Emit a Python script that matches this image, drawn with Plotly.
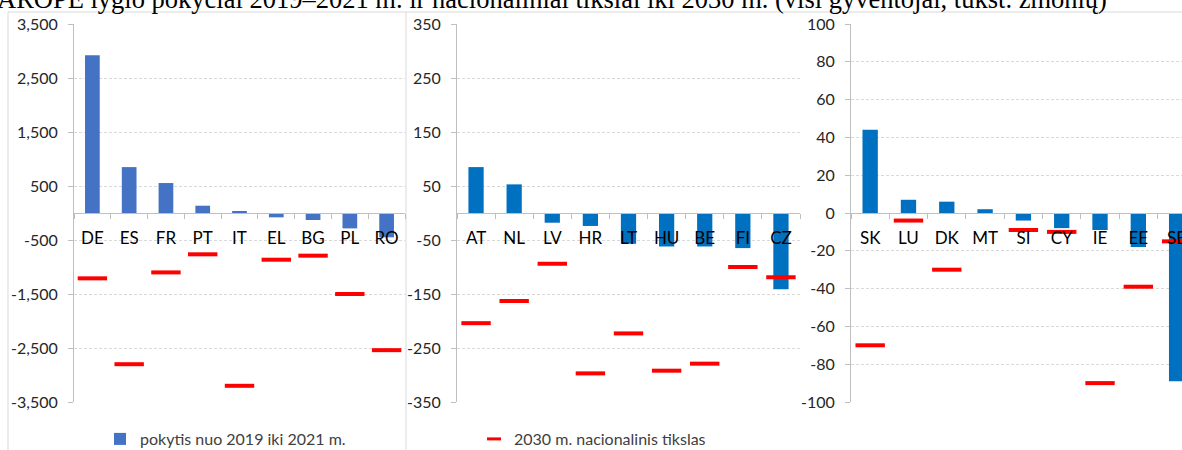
import plotly.graph_objects as go

# country groups and values (thousand people)
cats1 = ["DE", "ES", "FR", "PT", "IT", "EL", "BG", "PL", "RO"]
change1 = [2920, 850, 555, 135, 30, -80, -130, -285, -450]
target1 = [-1210, -2800, -1100, -765, -3200, -865, -790, -1500, -2540]

cats2 = ["AT", "NL", "LV", "HR", "LT", "HU", "BE", "FI", "CZ"]
change2 = [85, 53, -18, -24, -57, -62, -62, -65, -141]
target2 = [-204, -163, -94, -297, -223, -292, -279, -100, -119]

cats3 = ["SK", "LU", "DK", "MT", "SI", "CY", "IE", "EE", "SE"]
change3 = [44, 7, 6, 2, -4, -8, -9, -18, -89]
target3 = [-70, -4, -30, None, -9, -10, -90, -39, -15]

ticks1 = [3500, 2500, 1500, 500, -500, -1500, -2500, -3500]
ticks2 = [350, 250, 150, 50, -50, -150, -250, -350]
ticks3 = [100, 80, 60, 40, 20, 0, -20, -40, -60, -80, -100]

title = "AROPE lygio pokyčiai 2019–2021 m. ir nacionaliniai tikslai iki 2030 m. (visi gyventojai, tūkst. žmonių)"
bar_name = "pokytis nuo 2019 iki 2021 m."
target_name = "2030 m. nacionalinis tikslas"

W, H = 1182, 450
FONT = "Lato"
GRID = "#D9D9D9"
AXIS = "#BFBFBF"
RED = "#FF0000"


def px_x(p):
    return p / W


def px_y(p):
    return 1 - p / H


y_dom = [px_y(402), px_y(24)]
zero_pos = (y_dom[0] + y_dom[1]) / 2

panels = [
    (cats1, change1, target1, ticks1, "#4472C4", [px_x(74), px_x(405)], [-0.5, 8.5]),
    (cats2, change2, target2, ticks2, "#0070C0", [px_x(457), px_x(800)], [-0.5, 8.5]),
    (cats3, change3, target3, ticks3, "#0070C0", [px_x(851), 1.0], [-0.5, 8.14]),
]

fig = go.Figure()
layout = {}

for i, (cats, change, target, ticks, color, xdom, xrange_) in enumerate(panels):
    n = "" if i == 0 else str(i + 1)
    fig.add_trace(go.Bar(
        x=cats, y=change, width=0.4, marker_color=color, marker_line_width=0,
        xaxis="x" + n, yaxis="y" + n,
        name=bar_name, showlegend=(i == 0), legend="legend",
    ))
    fig.add_trace(go.Scatter(
        x=cats, y=target, mode="markers", xaxis="x" + n, yaxis="y" + n,
        marker=dict(symbol="line-ew", size=21, line=dict(color=RED, width=4)),
        showlegend=False,
    ))
    layout["xaxis" + n] = dict(
        domain=xdom, anchor="free", position=zero_pos, type="category",
        range=xrange_, showline=True, linecolor=AXIS, linewidth=1,
        ticks="outside", ticklen=5, tickcolor=AXIS, tickson="boundaries",
        showgrid=False, ticklabelstandoff=10, automargin=False,
        tickfont=dict(family=FONT, size=17, color="#000000"),
    )
    layout["yaxis" + n] = dict(
        domain=y_dom, anchor="x" + n, range=[ticks[-1], ticks[0]],
        tickvals=ticks, ticktext=[f"{v:,}" for v in ticks],
        showline=True, linecolor=AXIS, ticks="outside", ticklen=5, tickcolor=AXIS,
        showgrid=True, gridcolor=GRID, griddash="3px,2px", zeroline=False,
        ticklabelstandoff=7, automargin=False,
        tickfont=dict(family=FONT, size=16, color="#262626"),
    )

# legend-only trace for the target marker
fig.add_trace(go.Scatter(
    x=[None], y=[None], mode="markers", name=target_name, legend="legend2",
    marker=dict(symbol="line-ew", size=10, line=dict(color=RED, width=3)),
))

shapes = [
    dict(type="rect", xref="paper", yref="paper", x0=px_x(8), x1=px_x(406),
         y0=px_y(470), y1=px_y(12), line=dict(color=GRID, width=1), layer="below"),
    dict(type="line", xref="paper", yref="paper", x0=px_x(406), x1=1.0,
         y0=px_y(12), y1=px_y(12), line=dict(color=GRID, width=1), layer="below"),
]

legend_font = dict(family=FONT, size=16, color="#404040")

fig.update_layout(
    width=W, height=H,
    margin=dict(l=0, r=0, t=0, b=0, autoexpand=False),
    paper_bgcolor="white", plot_bgcolor="white",
    bargap=0.6,
    shapes=shapes,
    showlegend=True,
    legend=dict(x=px_x(100), y=px_y(422), xanchor="left", yanchor="top",
                orientation="h", font=legend_font, bgcolor="rgba(0,0,0,0)"),
    legend2=dict(x=px_x(474), y=px_y(422), xanchor="left", yanchor="top",
                 orientation="h", font=legend_font, bgcolor="rgba(0,0,0,0)"),
    annotations=[dict(
        text=title, xref="paper", yref="paper", x=0, y=1, xanchor="left",
        yanchor="middle", xshift=-5, yshift=1, showarrow=False,
        font=dict(family="Liberation Serif", size=26.5, color="#000000"),
    )],
    **layout,
)

# drop the browser's default body margin so the figure sits at the page corner
fig.write_html("out.html", config={"displayModeBar": False},
               post_script="document.body.style.margin='0';")
